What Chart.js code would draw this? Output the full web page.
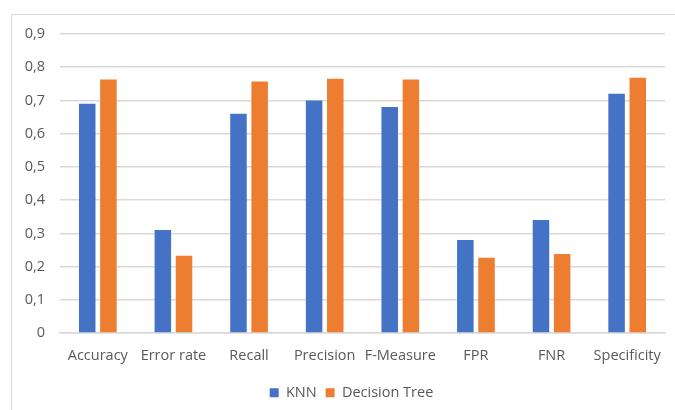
<!DOCTYPE html>
<html>
<head>
<meta charset="utf-8">
<script src="https://cdn.jsdelivr.net/npm/chart.js@4/dist/chart.umd.min.js"></script>
<style>
html,body{margin:0;padding:0;background:#fff;width:675px;height:410px;overflow:hidden;}
#frame{position:absolute;left:11px;top:14px;width:700px;height:420px;border:1px solid #d9d9d9;box-sizing:border-box;}
#wrap{position:absolute;left:0;top:0;width:675px;height:410px;}
</style>
</head>
<body>
<div id="frame"></div>
<div id="wrap"><canvas id="c" width="675" height="410"></canvas></div>
<script>
const categories = ["Accuracy", "Error rate", "Recall", "Precision", "F-Measure", "FPR", "FNR", "Specificity"];
const knnValues = [0.69, 0.31, 0.66, 0.70, 0.68, 0.28, 0.34, 0.72];
const decisionTreeValues = [0.763, 0.233, 0.757, 0.765, 0.763, 0.227, 0.238, 0.768];
const seriesNames = ["KNN", "Decision Tree"];
const yTickLabels = ["0", "0,1", "0,2", "0,3", "0,4", "0,5", "0,6", "0,7", "0,8", "0,9"];

const textColor = "#595959";
const fontFamily = "'Open Sans', 'Noto Sans', sans-serif";

const legendShift = {
  id: "legendShift",
  afterLayout(chart) {
    if (chart.legend) { chart.legend.left += 19; chart.legend.right += 19; }
  }
};

new Chart(document.getElementById("c"), {
  type: "bar",
  data: {
    labels: categories,
    datasets: [
      { label: seriesNames[0], data: knnValues, backgroundColor: "#4472C4", categoryPercentage: 0.56, barPercentage: 0.78 },
      { label: seriesNames[1], data: decisionTreeValues, backgroundColor: "#ED7D31", categoryPercentage: 0.56, barPercentage: 0.78 }
    ]
  },
  plugins: [legendShift],
  options: {
    responsive: false,
    animation: false,
    layout: { padding: { left: 0, right: 10, top: 34, bottom: 0 } },
    plugins: {
      tooltip: { enabled: false },
      legend: {
        position: "bottom",
        labels: { boxWidth: 9, boxHeight: 9, color: textColor, font: { family: fontFamily, size: 14.5 }, padding: 9 }
      }
    },
    scales: {
      x: {
        afterFit: (s) => { s.height += 6; },
        grid: { display: false },
        border: { display: true, color: "#d9d9d9", width: 1.5 },
        ticks: { color: textColor, font: { family: fontFamily, size: 14.5 }, padding: 6, maxRotation: 0, autoSkip: false }
      },
      y: {
        min: 0, max: 0.9,
        afterFit: (s) => { s.width = 60; },
        grid: { color: "#d9d9d9", lineWidth: 1.5, drawTicks: false },
        border: { display: false },
        ticks: {
          stepSize: 0.1,
          color: textColor,
          font: { family: fontFamily, size: 14.5 },
          padding: 15,
          callback: (v, i) => yTickLabels[i]
        }
      }
    }
  }
});
</script>
</body>
</html>
